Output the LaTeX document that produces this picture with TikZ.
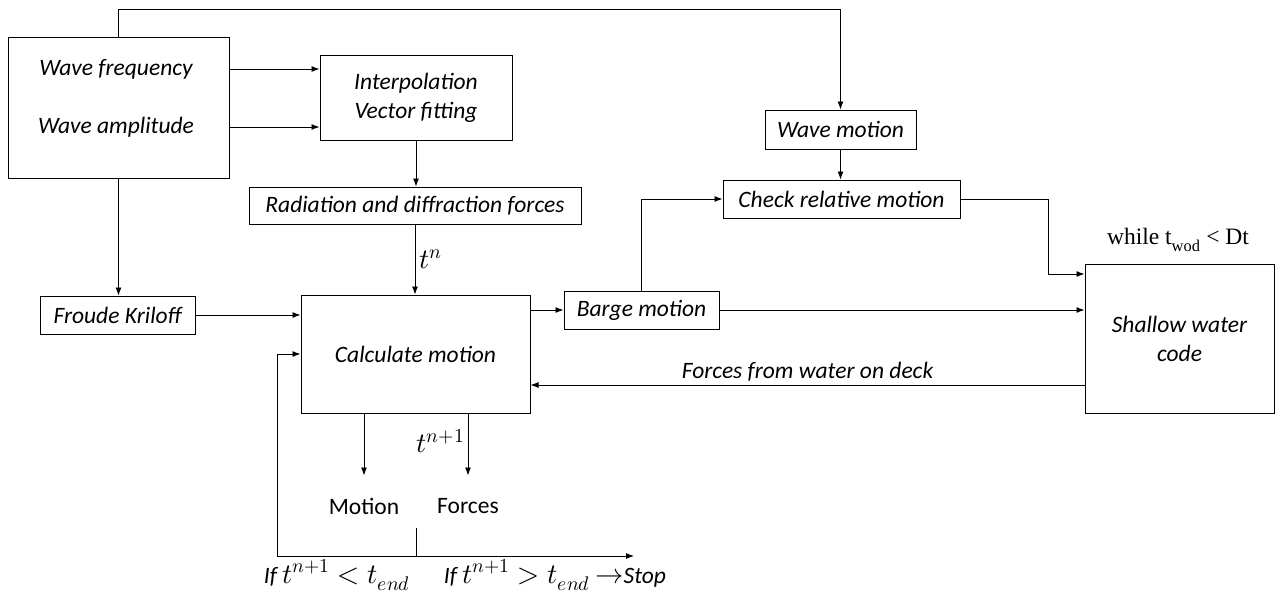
\documentclass[tikz,border=0pt]{standalone}
\usepackage{fontspec}
\usepackage{unicode-math}
\setmainfont{Carlito}
\setmathfont{Latin Modern Math}[Scale=1.2]
\newfontfamily\condfont{Liberation Serif}
\usetikzlibrary{arrows.meta,positioning,calc}

\begin{document}
\begin{tikzpicture}[x=1pt,y=-1pt, every node/.style={font=\fontsize{23.5}{29}\selectfont\itshape}, box/.style={draw,line width=1pt,inner sep=0pt,align=center}, arr/.style={-{Latex[length=8pt,width=6pt]},line width=0.9pt}]
\useasboundingbox (0,0) rectangle (1277,594);
% inputs
\node[box,minimum width=221pt,minimum height=140pt] (inp) at (118.5,108) {};
\node (wf) at (116,69) {Wave frequency};
\node (wa) at (116,127) {Wave amplitude};
\node[box,minimum width=192pt,minimum height=84pt] (interp) at (416,98) {Interpolation\\Vector fitting};
\node[box,minimum width=332pt,minimum height=37pt] (rad) at (415,205.5) {Radiation and diffraction forces};
\node[box,minimum width=155pt,minimum height=38pt] (fk) at (117.5,315) {Froude Kriloff};
\node[box,minimum width=229pt,minimum height=118pt] (calc) at (415.5,354) {Calculate motion};
\node[box,minimum width=155pt,minimum height=38pt] (barge) at (641.5,310) {Barge motion};
\node[box,minimum width=151pt,minimum height=39pt] (wmot) at (840.5,129.5) {Wave motion};
\node[box,minimum width=237pt,minimum height=38pt] (check) at (841.5,199) {Check relative motion};
\node[box,minimum width=189pt,minimum height=149pt] (sw) at (1179.5,338.5) {Shallow water\\code};
\node at (1178,240) {\condfont\upshape while t\textsubscript{wod} < Dt};
% outputs
\node[font=\fontsize{23.5}{29}\selectfont\upshape] (mot) at (364,506) {Motion};
\node[font=\fontsize{23.5}{29}\selectfont\upshape] (forc) at (468,506) {Forces};
\node (c1) at (337,575) {If $t^{n+1} < t_{end}$};
\node (c2) at (555,575) {If $t^{n+1} > t_{end}$ $\rightarrow$Stop};
\coordinate (split) at (416,528);
\coordinate (lp) at (277,556);
\coordinate (stop) at (634,556);
\coordinate (chk) at (1048,274);
% connectors
\draw[arr] (inp.north) -- ++(0,-28) -| (wmot.north);
\draw[arr] (wf -| inp.east) -- (wf -| interp.west);
\draw[arr] (wa -| inp.east) -- (wa -| interp.west);
\draw[arr] (interp.south) -- (interp.south |- rad.north);
\draw[arr] (rad.south) -- (rad.south |- calc.north) node[midway,right,inner sep=4pt] {$t^n$};
\draw[arr] (inp.south) -- (inp.south |- fk.north);
\draw[arr] (fk.east) -- (fk.east -| calc.west);
\draw[arr] (calc.east |- barge) -- (barge.west);
\draw[arr] (barge.east) -- (barge.east -| sw.west);
\draw[arr] (barge.north) |- (check.west);
\draw[arr] (wmot.south) -- (wmot.south |- check.north);
\draw[arr] (check.east) -| (chk) -- (chk -| sw.west);
\draw[arr] (sw.west |- 0,385) -- (calc.east |- 0,385) node[midway,above,inner sep=3pt] {Forces from water on deck};
\draw[arr] (calc.south -| mot) -- ++(0,62);
\draw[arr] (calc.south -| forc) -- ++(0,62) node[pos=0.45,left,inner sep=3pt] {$t^{n+1}$};
\draw[line width=0.9pt] (split) -- (split |- lp);
\draw[arr] (split |- lp) -- (lp) |- (calc.west);
\draw[arr] (split |- lp) -- (stop);
\end{tikzpicture}
\end{document}
